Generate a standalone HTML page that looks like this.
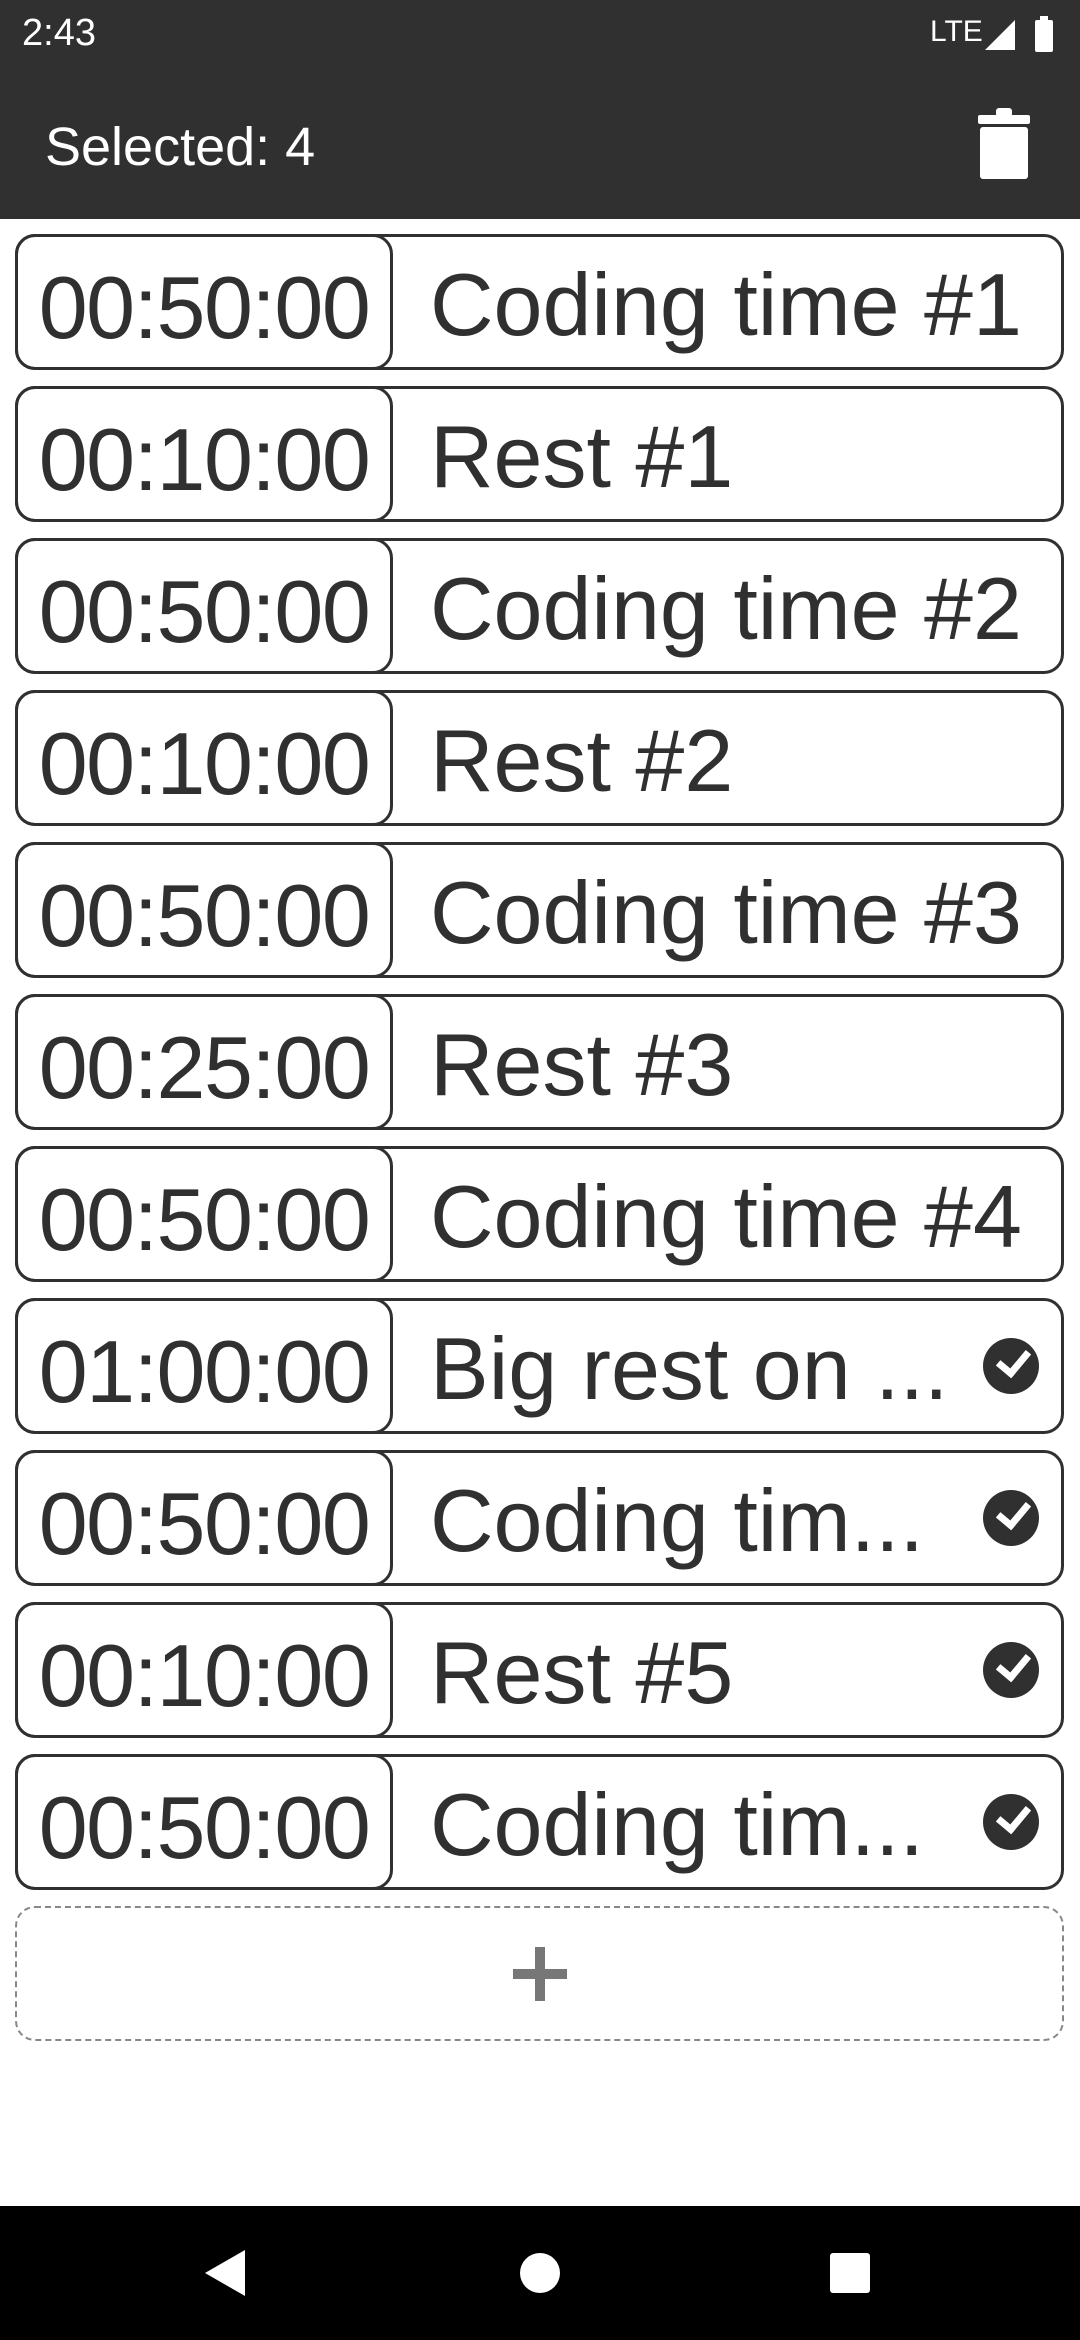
<!DOCTYPE html>
<html><head><style>
body{margin:0;width:1080px;height:2340px;background:#fff;position:relative;overflow:hidden;font-family:"Liberation Sans",Roboto,sans-serif;color:#303030}
.sb{position:absolute;left:0;top:0;width:1080px;height:219px;background:#303030}
.row{position:absolute;left:15px;width:1049px;height:136px;box-sizing:border-box;border:3px solid #303030;border-radius:20px}
.tm{position:absolute;left:-3px;top:-3px;width:378px;height:136px;box-sizing:border-box;border:3px solid #303030;border-radius:20px;font-size:88px;letter-spacing:-1.5px;line-height:142px;text-align:center}
.lb{position:absolute;left:412px;top:3px;font-size:88px;line-height:130px;white-space:nowrap}
.ck{position:absolute;left:965px;top:37px;width:56px;height:56px;border-radius:50%;background:#303030}
.ck:after{content:"";position:absolute;left:15px;top:12px;width:24px;height:13px;border-left:7px solid #fff;border-bottom:7px solid #fff;transform:rotate(-50deg);}
</style></head><body>
<div class="sb"></div>
<div style="position:absolute;left:22px;top:12px;font-size:38px;color:#fff">2:43</div>
<div style="position:absolute;left:930px;top:15px;font-size:30px;color:#fff">LTE</div>
<svg style="position:absolute;left:983px;top:14px" width="80" height="40"><polygon points="2,36 32,6 32,36" fill="#fff"/><rect x="52" y="6" width="18" height="32" rx="2" fill="#fff"/><rect x="57" y="2" width="8" height="6" fill="#fff"/></svg>
<div style="position:absolute;left:45px;top:116px;font-size:54px;color:#fff">Selected: 4</div>
<svg style="position:absolute;left:978px;top:105px" width="52" height="76"><rect x="0" y="10" width="52" height="9" rx="2" fill="#fff"/><rect x="18" y="3" width="16" height="9" rx="3" fill="#fff"/><rect x="2" y="22" width="48" height="52" rx="3" fill="#fff"/></svg>

<div class="row" style="top:234px"><div class="tm">00:50:00</div><div class="lb">Coding time #1</div></div>
<div class="row" style="top:386px"><div class="tm">00:10:00</div><div class="lb">Rest #1</div></div>
<div class="row" style="top:538px"><div class="tm">00:50:00</div><div class="lb">Coding time #2</div></div>
<div class="row" style="top:690px"><div class="tm">00:10:00</div><div class="lb">Rest #2</div></div>
<div class="row" style="top:842px"><div class="tm">00:50:00</div><div class="lb">Coding time #3</div></div>
<div class="row" style="top:994px"><div class="tm">00:25:00</div><div class="lb">Rest #3</div></div>
<div class="row" style="top:1146px"><div class="tm">00:50:00</div><div class="lb">Coding time #4</div></div>
<div class="row" style="top:1298px"><div class="tm">01:00:00</div><div class="lb">Big rest on ...</div><div class="ck"></div></div>
<div class="row" style="top:1450px"><div class="tm">00:50:00</div><div class="lb">Coding tim...</div><div class="ck"></div></div>
<div class="row" style="top:1602px"><div class="tm">00:10:00</div><div class="lb">Rest #5</div><div class="ck"></div></div>
<div class="row" style="top:1754px"><div class="tm">00:50:00</div><div class="lb">Coding tim...</div><div class="ck"></div></div>

<div style="position:absolute;left:15px;top:1906px;width:1049px;height:135px;box-sizing:border-box;border:2px dashed #888;border-radius:20px"></div>
<div style="position:absolute;left:513px;top:1969px;width:54px;height:10px;background:#777"></div>
<div style="position:absolute;left:535px;top:1947px;width:10px;height:54px;background:#777"></div>

<div style="position:absolute;left:0;top:2206px;width:1080px;height:134px;background:#000"></div>
<svg style="position:absolute;left:0;top:2206px" width="1080" height="134"><polygon points="205,67 245,44 245,90" fill="#fff"/><circle cx="540" cy="67" r="20" fill="#fff"/><rect x="830" y="47" width="40" height="40" rx="3" fill="#fff"/></svg>
</body></html>
